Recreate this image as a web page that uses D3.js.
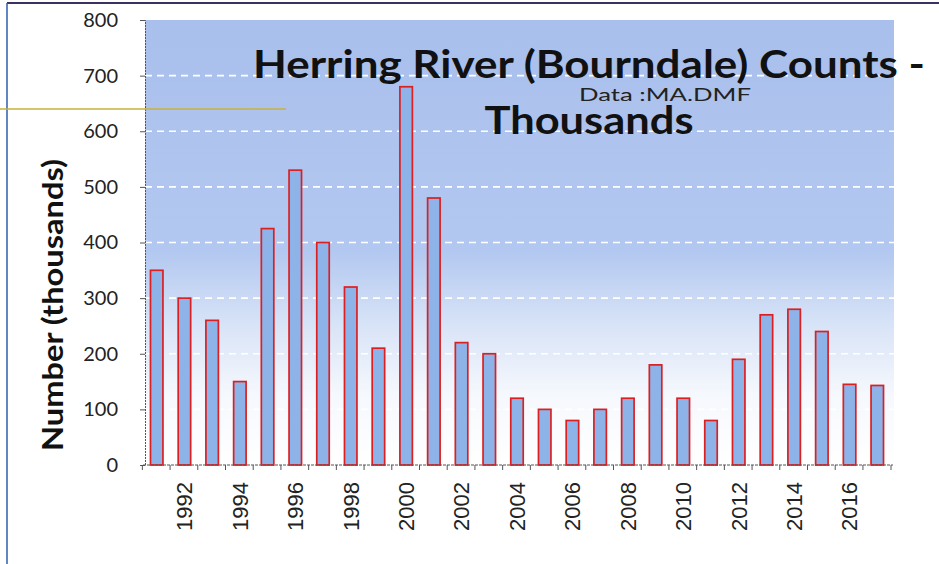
<!DOCTYPE html>
<html>
<head>
<meta charset="utf-8">
<script src="https://cdn.jsdelivr.net/npm/d3@7"></script>
<style>
  html, body { margin: 0; padding: 0; background: #ffffff; }
  svg { display: block; }
</style>
</head>
<body>
<svg id="chart" width="939" height="564"></svg>
<script>
const years = [1991,1992,1993,1994,1995,1996,1997,1998,1999,2000,2001,2002,2003,2004,2005,2006,2007,2008,2009,2010,2011,2012,2013,2014,2015,2016,2017];
const counts = [350,300,260,150,425,530,400,320,210,680,480,220,200,120,100,80,100,120,180,120,80,190,270,280,240,145,143];
const yTicks = [0,100,200,300,400,500,600,700,800];
const xTickLabels = [1992,1994,1996,1998,2000,2002,2004,2006,2008,2010,2012,2014,2016];
const titleLine1 = "Herring River (Bourndale) Counts -";
const titleLine2 = "Thousands";
const subtitle = "Data :MA.DMF";
const yLabel = "Number (thousands)";

const svg = d3.select("#chart");
const W = 939, H = 564;
const plot = { left: 145, right: 894, top: 20, bottom: 465 };

const x = d3.scaleBand().domain(years).range([143, 891]).paddingInner(0.55).paddingOuter(0.27);
const y = d3.scaleLinear().domain([0, 800]).range([plot.bottom, plot.top]);

const defs = svg.append("defs");
const grad = defs.append("linearGradient").attr("id", "bg").attr("x1", 0).attr("y1", 0).attr("x2", 0).attr("y2", 1);
grad.append("stop").attr("offset", "0%").attr("stop-color", "#a9bfec");
grad.append("stop").attr("offset", "52%").attr("stop-color", "#b3c8f0");
grad.append("stop").attr("offset", "69%").attr("stop-color", "#d9e4f7");
grad.append("stop").attr("offset", "84%").attr("stop-color", "#f5f8fd");
grad.append("stop").attr("offset", "100%").attr("stop-color", "#ffffff");

// page borders (scan edges)
svg.append("line").attr("x1", 7).attr("x2", W).attr("y1", 3).attr("y2", 3).attr("stroke", "#3a3160").attr("stroke-width", 2);
svg.append("line").attr("x1", 7).attr("x2", 7).attr("y1", 3).attr("y2", H).attr("stroke", "#2b5fb0").attr("stroke-width", 1.5);

// plot background
svg.append("rect").attr("x", plot.left).attr("y", plot.top)
  .attr("width", plot.right - plot.left).attr("height", plot.bottom - plot.top)
  .attr("fill", "url(#bg)");

// gridlines
svg.append("g").selectAll("line").data(yTicks.filter(d => d > 0 && d < 800)).join("line")
  .attr("x1", plot.left).attr("x2", plot.right)
  .attr("y1", d => y(d)).attr("y2", d => y(d))
  .attr("stroke", "#ffffff").attr("stroke-width", 1.6).attr("stroke-dasharray", "7,5");

// bars
svg.append("g").selectAll("rect").data(years).join("rect")
  .attr("x", (d) => x(d))
  .attr("y", (d, i) => y(counts[i]))
  .attr("width", x.bandwidth())
  .attr("height", (d, i) => y(0) - y(counts[i]))
  .attr("fill", "#8eb3e9")
  .attr("stroke", "#dc1f20")
  .attr("stroke-width", 1.7);

// y axis
const yAxis = d3.axisLeft(y).tickValues(yTicks).tickSize(5).tickPadding(22);
const gy = svg.append("g").attr("transform", `translate(${plot.left},0)`).call(yAxis)
  .attr("font-size", 20).attr("font-family", "Lato, 'Open Sans', sans-serif");
gy.select(".domain").attr("stroke", "#555").attr("stroke-dasharray", "2,1");
gy.selectAll(".tick line").attr("stroke", "#555");
gy.selectAll("text").attr("fill", "#222");

// x axis
const xAxis = d3.axisBottom(x).tickValues(xTickLabels).tickSize(0).tickPadding(0);
const gx = svg.append("g").attr("transform", `translate(0,${plot.bottom})`)
  .call(xAxis)
  .attr("font-size", 22).attr("font-family", "'Liberation Sans', Arial, sans-serif");
gx.select(".domain").remove();
gx.selectAll("text")
  .attr("fill", "#222")
  .attr("text-anchor", "end").attr("transform", "rotate(-90)")
  .attr("x", -17).attr("y", 0).attr("dy", "0.36em");

// baseline and category boundary ticks
svg.append("line").attr("x1", 143).attr("x2", 893).attr("y1", plot.bottom).attr("y2", plot.bottom)
  .attr("stroke", "#555").attr("stroke-dasharray", "3,1");
const bounds = years.map(d => x(d) - x.step() * x.paddingInner() / 2 - 0.5);
bounds.push(891);
svg.append("g").selectAll("line").data(bounds).join("line")
  .attr("x1", d => d).attr("x2", d => d).attr("y1", plot.bottom).attr("y2", plot.bottom + 5)
  .attr("stroke", "#555");

// y label
svg.append("text")
  .attr("transform", `translate(63,305) rotate(-90)`)
  .attr("text-anchor", "middle")
  .attr("font-family", "Lato, 'Open Sans', sans-serif").attr("font-weight", 700)
  .attr("font-size", 29).attr("fill", "#111")
  .attr("textLength", 292).attr("lengthAdjust", "spacingAndGlyphs")
  .text(yLabel);

// scan artifact line
svg.append("line").attr("x1", 0).attr("x2", 286).attr("y1", 109).attr("y2", 109)
  .attr("stroke", "#c9b13c").attr("stroke-width", 1.3);

// titles
svg.append("text").attr("x", 589).attr("y", 78).attr("text-anchor", "middle")
  .attr("font-family", "Lato, 'Open Sans', sans-serif").attr("font-weight", 700)
  .attr("font-size", 39).attr("fill", "#111")
  .attr("textLength", 672).attr("lengthAdjust", "spacingAndGlyphs")
  .text(titleLine1);
svg.append("text").attr("x", 589).attr("y", 134).attr("text-anchor", "middle")
  .attr("font-family", "Lato, 'Open Sans', sans-serif").attr("font-weight", 700)
  .attr("font-size", 39).attr("fill", "#111")
  .attr("textLength", 209).attr("lengthAdjust", "spacingAndGlyphs")
  .text(titleLine2);
svg.append("text").attr("x", 665).attr("y", 101).attr("text-anchor", "middle")
  .attr("font-family", "Lato, 'Open Sans', sans-serif")
  .attr("font-size", 18).attr("fill", "#222")
  .attr("textLength", 172).attr("lengthAdjust", "spacingAndGlyphs")
  .text(subtitle);
</script>
</body>
</html>
